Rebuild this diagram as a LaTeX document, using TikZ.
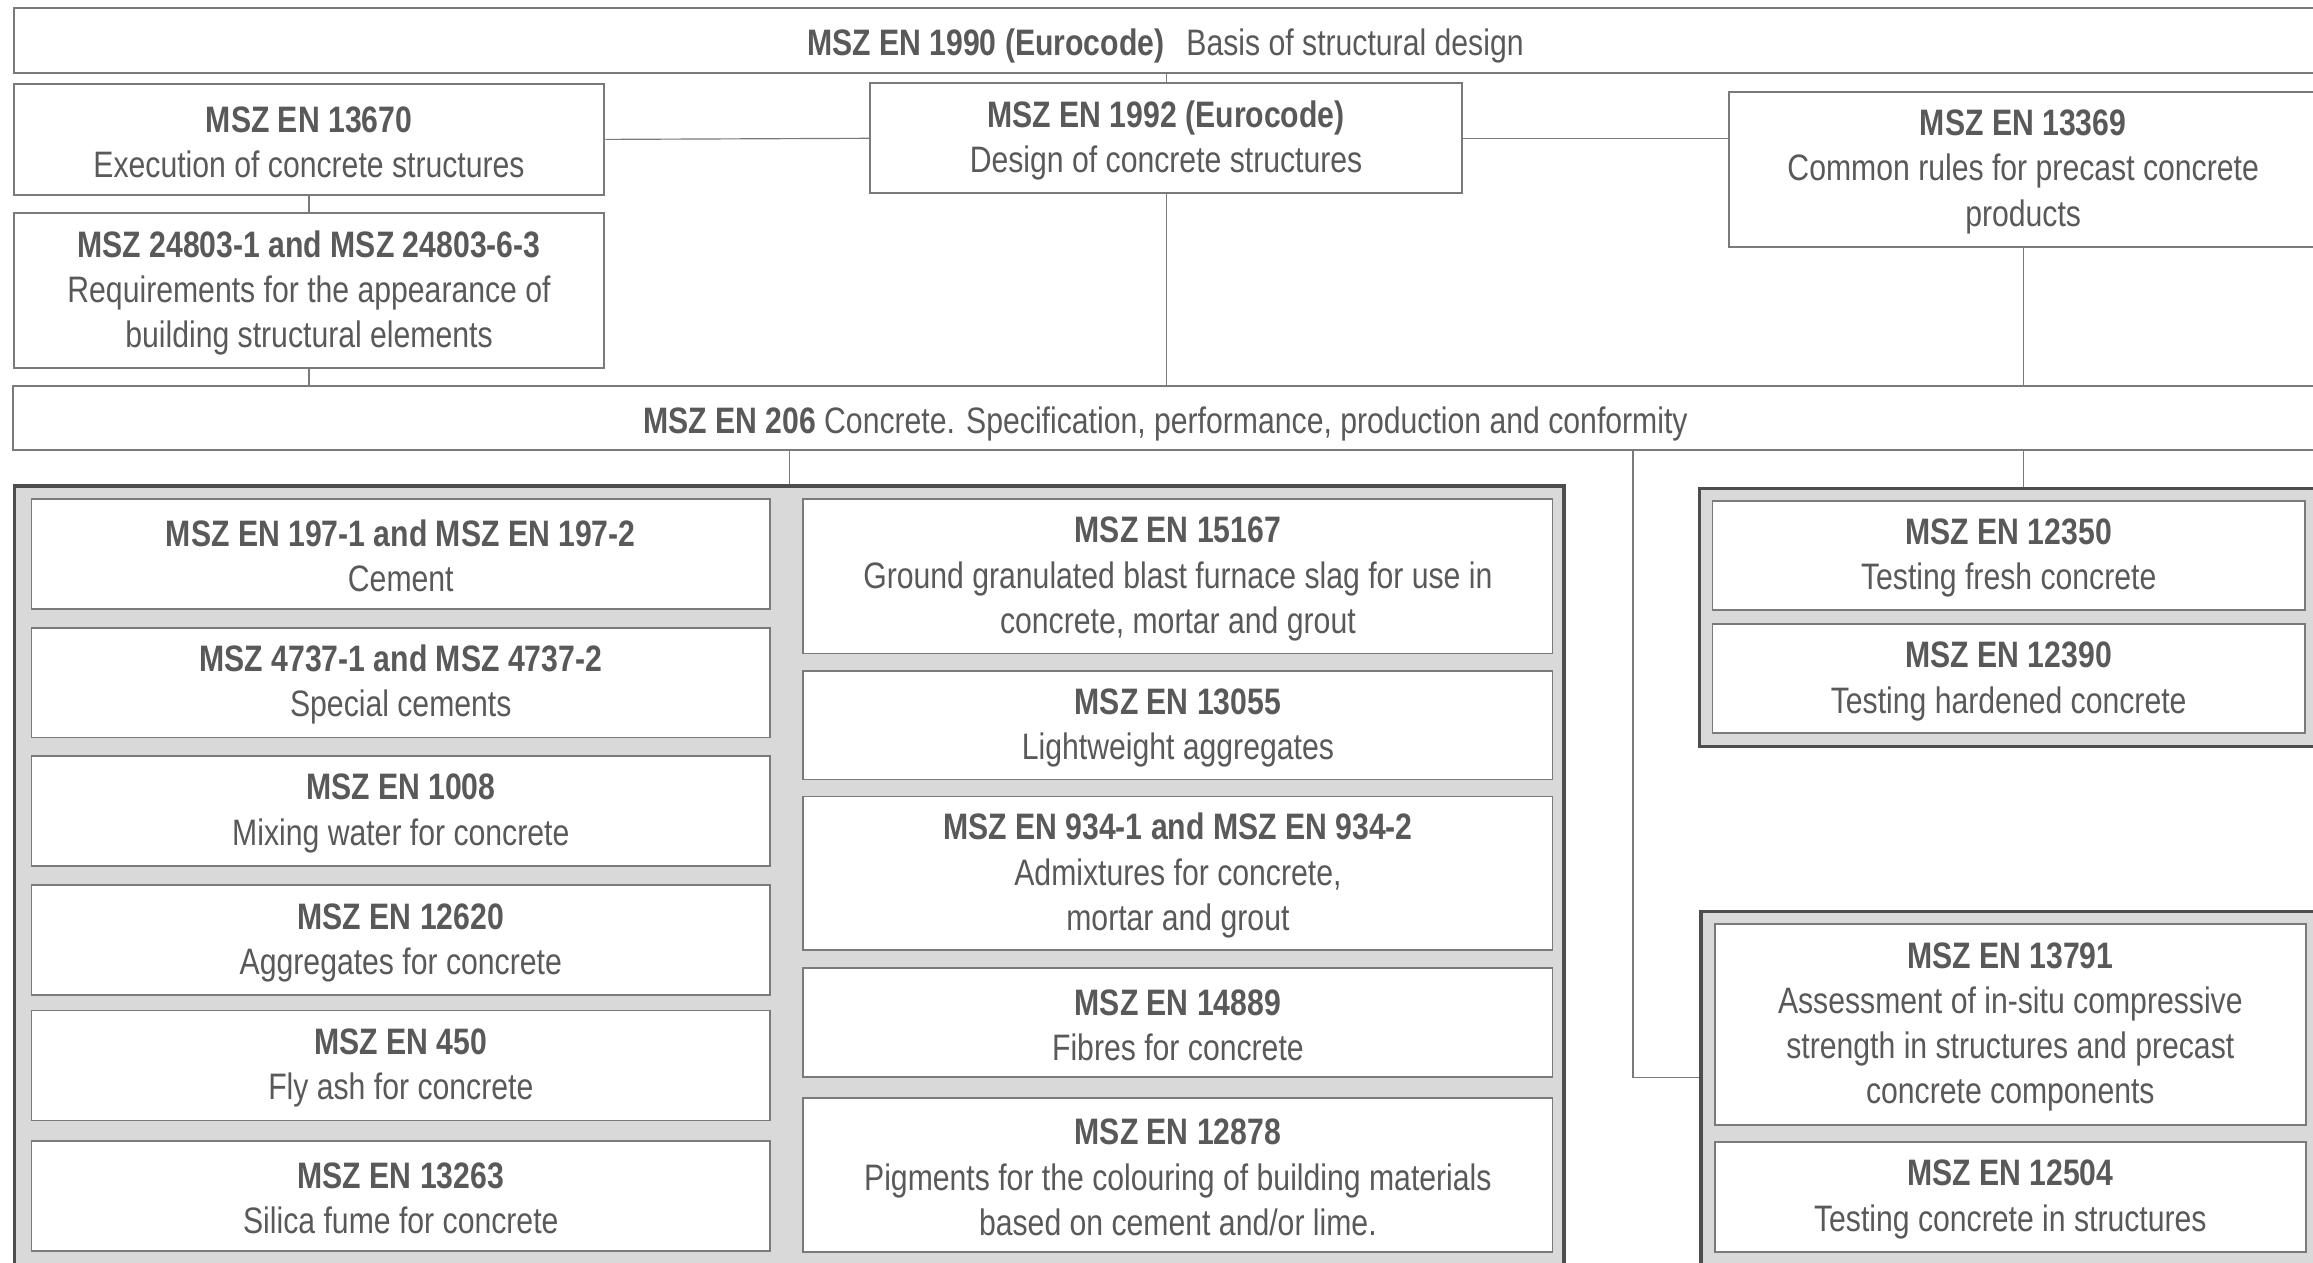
\documentclass[tikz,border=0pt]{standalone}
\usepackage{fontspec}
\setmainfont{Liberation Sans}[FakeStretch=0.82]
\definecolor{txtgray}{HTML}{595959}
\definecolor{boxgray}{HTML}{7A7A7A}
\definecolor{panelgray}{HTML}{4D4D4D}
\definecolor{panelfill}{HTML}{D9D9D9}
\newcommand\stdno[2][12pt]{\rule{0pt}{#1}\textbf{#2}}
\begin{document}
\begin{tikzpicture}[font=\fontsize{14.2}{17.4}\selectfont,
    stdbox/.style={draw=boxgray,line width=0.8pt,fill=white,text=txtgray,align=center,inner sep=0pt},
    inbox/.style={stdbox,line width=0.65pt},
    panel/.style={draw=panelgray,line width=1.3pt,fill=panelfill,inner sep=0pt},
    link/.style={draw=boxgray,line width=0.45pt}]
        \useasboundingbox (0,0) rectangle (31.36,-17.12);
        \node[stdbox,minimum width=31.23cm,minimum height=0.874cm](d1990) at (15.80,-0.549){\stdno[14.8pt]{MSZ EN 1990 (Eurocode)}\hspace{0.6em}Basis of structural design};
        \node[stdbox,minimum width=8.01cm,minimum height=1.50cm](e13670) at (4.19,-1.89){\stdno{MSZ EN 13670}\\Execution of concrete structures};
        \node[stdbox,minimum width=8.02cm,minimum height=1.49cm](d1992) at (15.81,-1.875){\stdno{MSZ EN 1992 (Eurocode)}\\Design of concrete structures};
        \node[stdbox,minimum width=7.98cm,minimum height=2.10cm](p13369) at (27.43,-2.294){\stdno{MSZ EN 13369}\\Common rules for precast concrete\\products};
        \node[stdbox,minimum width=8.01cm,minimum height=2.10cm](r24803) at (4.19,-3.943){\stdno{MSZ 24803-1 and MSZ 24803-6-3}\\Requirements for the appearance of\\building structural elements};
        \node[stdbox,minimum width=31.25cm,minimum height=0.876cm](c206) at (15.80,-5.668){\stdno[14.8pt]{MSZ EN 206} Concrete. Specification, performance, production and conformity};
        \node[panel,minimum width=21.01cm,minimum height=10.61cm](lpanel) at (10.70,-11.895){};
        \node[panel,minimum width=8.40cm,minimum height=3.504cm](rtpanel) at (27.24,-8.372){};
        \node[panel,minimum width=8.40cm,minimum height=4.84cm](rbpanel) at (27.26,-14.78){};
        \node[inbox,minimum width=10.01cm,minimum height=1.49cm](m197) at (5.434,-7.512){\stdno{MSZ EN 197-1 and MSZ EN 197-2}\\Cement};
        \node[inbox,minimum width=10.01cm,minimum height=1.49cm](m4737) at (5.434,-9.256){\stdno{MSZ 4737-1 and MSZ 4737-2}\\Special cements};
        \node[inbox,minimum width=10.01cm,minimum height=1.49cm](m1008) at (5.434,-10.993){\stdno{MSZ EN 1008}\\Mixing water for concrete};
        \node[inbox,minimum width=10.01cm,minimum height=1.49cm](m12620) at (5.434,-12.745){\stdno{MSZ EN 12620}\\Aggregates for concrete};
        \node[inbox,minimum width=10.01cm,minimum height=1.49cm](m450) at (5.434,-14.445){\stdno{MSZ EN 450}\\Fly ash for concrete};
        \node[inbox,minimum width=10.01cm,minimum height=1.49cm](m13263) at (5.434,-16.214){\stdno{MSZ EN 13263}\\Silica fume for concrete};
        \node[inbox,minimum width=10.16cm,minimum height=2.094cm](m15167) at (15.97,-7.813){\stdno{MSZ EN 15167}\\Ground granulated blast furnace slag for use in\\concrete, mortar and grout};
        \node[inbox,minimum width=10.16cm,minimum height=1.47cm](m13055) at (15.97,-9.835){\stdno{MSZ EN 13055}\\Lightweight aggregates};
        \node[inbox,minimum width=10.16cm,minimum height=2.08cm](m934) at (15.97,-11.84){\stdno{MSZ EN 934-1 and MSZ EN 934-2}\\Admixtures for concrete,\\mortar and grout};
        \node[inbox,minimum width=10.16cm,minimum height=1.486cm](m14889) at (15.97,-13.863){\stdno{MSZ EN 14889}\\Fibres for concrete};
        \node[inbox,minimum width=10.16cm,minimum height=2.088cm](m12878) at (15.97,-15.926){\stdno{MSZ EN 12878}\\Pigments for the colouring of building materials\\based on cement and/or lime.};
        \node[inbox,minimum width=8.028cm,minimum height=1.482cm](t12350) at (27.234,-7.529){\stdno{MSZ EN 12350}\\Testing fresh concrete};
        \node[inbox,minimum width=8.028cm,minimum height=1.478cm](t12390) at (27.234,-9.203){\stdno{MSZ EN 12390}\\Testing hardened concrete};
        \node[inbox,minimum width=8.008cm,minimum height=2.724cm](t13791) at (27.256,-13.89){\stdno{MSZ EN 13791}\\Assessment of in-situ compressive\\strength in structures and precast\\concrete components};
        \node[inbox,minimum width=8.008cm,minimum height=1.49cm](t12504) at (27.256,-16.225){\stdno{MSZ EN 12504}\\Testing concrete in structures};
        \coordinate (bend) at (22.14,-14.612);
        \draw[link](d1992.north)--(d1992.north|-d1990.south);
        \draw[link](e13670.east)--(d1992.west);
        \draw[link](d1992.east)--(d1992.east-|p13369.west);
        \draw[link](e13670.south)--(r24803.north);
        \draw[link](r24803.south)--(r24803.south|-c206.north);
        \draw[link](d1992.south)--(d1992.south|-c206.north);
        \draw[link](p13369.south)--(p13369.south|-c206.north);
        \draw[link](lpanel.north)--(lpanel.north|-c206.south);
        \draw[link](c206.south-|p13369.south)--(rtpanel.north-|p13369.south);
        \draw[link](c206.south-|bend)--(bend)--(bend-|rbpanel.west);
    \end{tikzpicture}
\end{document}
